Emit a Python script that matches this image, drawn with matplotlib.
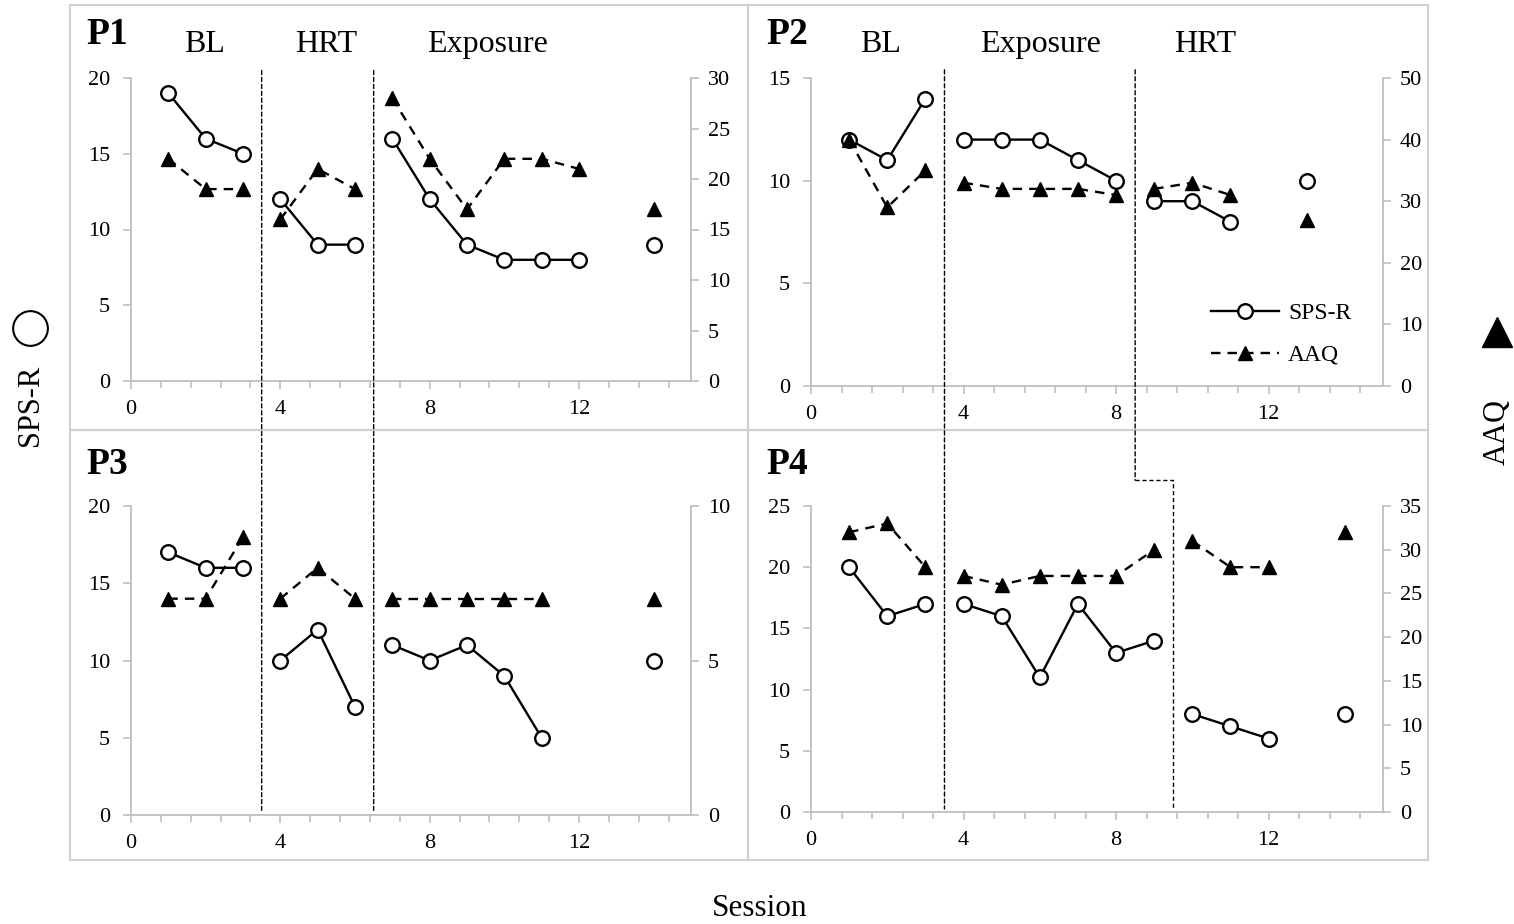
import numpy as np
import matplotlib
matplotlib.use("Agg")
import matplotlib.pyplot as plt
from matplotlib.ticker import MultipleLocator
from matplotlib.patches import ConnectionPatch, Rectangle
from matplotlib.lines import Line2D

plt.rcParams['font.family'] = ['Liberation Serif', 'DejaVu Serif']

# sessions per phase segment (lines break between phases)
p1_sessions = [[1, 2, 3], [4, 5, 6], [7, 8, 9, 10, 11, 12], [14]]
p1_sps = [[19, 16, 15], [12, 9, 9], [16, 12, 9, 8, 8, 8], [9]]
p1_aaq = [[22, 19, 19], [16, 21, 19], [28, 22, 17, 22, 22, 21], [17]]

p2_sessions = [[1, 2, 3], [4, 5, 6, 7, 8], [9, 10, 11], [13]]
p2_sps = [[12, 11, 14], [12, 12, 12, 11, 10], [9, 9, 8], [10]]
p2_aaq = [[40, 29, 35], [33, 32, 32, 32, 31], [32, 33, 31], [27]]

p3_sessions = [[1, 2, 3], [4, 5, 6], [7, 8, 9, 10, 11], [14]]
p3_sps = [[17, 16, 16], [10, 12, 7], [11, 10, 11, 9, 5], [10]]
p3_aaq = [[7, 7, 9], [7, 8, 7], [7, 7, 7, 7, 7], [7]]

p4_sessions = [[1, 2, 3], [4, 5, 6, 7, 8, 9], [10, 11, 12], [14]]
p4_sps = [[20, 16, 17], [17, 16, 11, 17, 13, 14], [8, 7, 6], [8]]
p4_aaq = [[32, 33, 28], [27, 26, 27, 27, 27, 30], [31, 28, 28], [32]]

p1_phases = ['BL', 'HRT', 'Exposure']
p1_phase_x = [1.96, 5.23, 9.55]
p2_phases = ['BL', 'Exposure', 'HRT']
p2_phase_x = [1.81, 6.01, 10.34]

W, H = 1514, 924
fig = plt.figure(figsize=(W / 100, H / 100), dpi=100)


def px_box(x0, y0, x1, y1):
    return [x0 / W, 1 - y1 / H, (x1 - x0) / W, (y1 - y0) / H]


GRAY = '#bfbfbf'

# panel frames
for (x0, y0, x1, y1) in [(70, 5, 748, 430), (748, 5, 1428, 430),
                         (70, 430, 748, 860), (748, 430, 1428, 860)]:
    fig.add_artist(Rectangle((x0 / W, 1 - y1 / H), (x1 - x0) / W, (y1 - y0) / H,
                             transform=fig.transFigure, fill=False,
                             edgecolor='#d0d0d0', lw=1.5))

panels = [
    ('P1', px_box(131, 78, 691, 381), p1_sessions, p1_sps, p1_aaq, 20, 5, 30, 5),
    ('P2', px_box(811, 78, 1383, 386), p2_sessions, p2_sps, p2_aaq, 15, 5, 50, 10),
    ('P3', px_box(131, 506, 691, 815), p3_sessions, p3_sps, p3_aaq, 20, 5, 10, 5),
    ('P4', px_box(811, 506, 1383, 812), p4_sessions, p4_sps, p4_aaq, 25, 5, 35, 5),
]

axes = []
for name, box, sess, sps, aaq, lmax, lstep, rmax, rstep in panels:
    ax = fig.add_axes(box)
    ax2 = ax.twinx()
    for xs, ys in zip(sess, sps):
        ax.plot(xs, ys, color='black', lw=1.7, marker='o', ms=10.5,
                mfc='white', mec='black', mew=1.7)
    for xs, ys in zip(sess, aaq):
        ax2.plot(xs, ys, color='black', lw=1.7, dashes=(4, 3), marker='^', ms=10.5,
                 mfc='black', mec='black')
    ax.set_xlim(0, 15)
    ax.set_ylim(0, lmax)
    ax2.set_ylim(0, rmax)
    ax.xaxis.set_major_locator(MultipleLocator(4))
    ax.xaxis.set_minor_locator(MultipleLocator(0.8))
    ax.yaxis.set_major_locator(MultipleLocator(lstep))
    ax2.yaxis.set_major_locator(MultipleLocator(rstep))
    for s in ['top', 'right']:
        ax.spines[s].set_visible(False)
    for s in ['top', 'left', 'bottom']:
        ax2.spines[s].set_visible(False)
    for a, s in [(ax, 'left'), (ax, 'bottom'), (ax2, 'right')]:
        a.spines[s].set_color(GRAY)
        a.spines[s].set_linewidth(1.3)
    ax.tick_params(axis='x', which='major', direction='out', color=GRAY,
                   length=6, width=1.2, labelsize=16, pad=8)
    ax.tick_params(axis='x', which='minor', direction='out', color=GRAY,
                   length=5, width=1.2)
    ax.tick_params(axis='y', direction='out', color=GRAY, length=6, width=1.2,
                   labelsize=16, pad=9)
    ax2.tick_params(axis='y', direction='out', color=GRAY, length=6, width=1.2,
                    labelsize=16, pad=6)
    ax.patch.set_alpha(0)
    ax2.patch.set_alpha(0)
    axes.append((ax, ax2))

# panel names
for name, (x, y) in zip(['P1', 'P2', 'P3', 'P4'],
                        [(86, 34), (766, 34), (86, 464), (766, 464)]):
    fig.text(x / W, 1 - y / H, name, fontsize=27, fontweight='bold',
             ha='left', va='center')

# phase labels
for ax_i, labels, xs in [(0, p1_phases, p1_phase_x), (1, p2_phases, p2_phase_x)]:
    ax = axes[ax_i][0]
    for lab, x in zip(labels, xs):
        ax.text(x, 1.11, lab, transform=ax.get_xaxis_transform(),
                ha='center', va='center', fontsize=23)

# phase change lines
dash = (0, (3, 2))
ax1, ax3 = axes[0][0], axes[2][0]
ax2l, ax4 = axes[1][0], axes[3][0]
for x in [3.5, 6.5]:
    fig.add_artist(ConnectionPatch(xyA=(x, 20.5), coordsA=ax1.transData,
                                   xyB=(x, 0.3), coordsB=ax3.transData,
                                   color='black', lw=1, linestyle=dash))
fig.add_artist(ConnectionPatch(xyA=(3.5, 15.4), coordsA=ax2l.transData,
                               xyB=(3.5, 0.25), coordsB=ax4.transData,
                               color='black', lw=1, linestyle=dash))
fig.add_artist(ConnectionPatch(xyA=(8.5, 15.4), coordsA=ax2l.transData,
                               xyB=(8.5, 27.1), coordsB=ax4.transData,
                               color='black', lw=1, linestyle=dash))
ax4.plot([8.5, 9.5, 9.5], [27.1, 27.1, 0.25], color='black', lw=1,
         linestyle=dash, clip_on=False)

# legend in P2
h1 = Line2D([], [], color='black', lw=1.7, marker='o', ms=10.5, mfc='white',
            mec='black', mew=1.7)
h2 = Line2D([], [], color='black', lw=1.7, dashes=(4, 3), marker='^', ms=10.5,
            mfc='black')
axes[1][1].legend([h1, h2], ['SPS-R', 'AAQ'], loc='upper left',
                  bbox_to_anchor=(0.70, 0.27), frameon=False, fontsize=17,
                  handlelength=2.85, labelspacing=0.85, handletextpad=0.4,
                  borderpad=0, borderaxespad=0)

# shared axis titles and symbols
fig.text(30 / W, 1 - 405 / H, 'SPS-R', rotation=90, fontsize=22,
         ha='center', va='center')
fig.add_artist(Line2D([30 / W], [1 - 328 / H], transform=fig.transFigure,
                      marker='o', ms=25, mfc='white', mec='black', mew=1.5))
fig.text(1497 / W, 1 - 432 / H, 'AAQ', rotation=90, fontsize=22,
         ha='center', va='center')
fig.add_artist(Line2D([1497 / W], [1 - 332 / H], transform=fig.transFigure,
                      marker='^', ms=22, mfc='black', mec='black'))
fig.text(760 / W, 1 - 908 / H, 'Session', fontsize=22.5, ha='center',
         va='center')

fig.savefig('out.png', dpi=100)
